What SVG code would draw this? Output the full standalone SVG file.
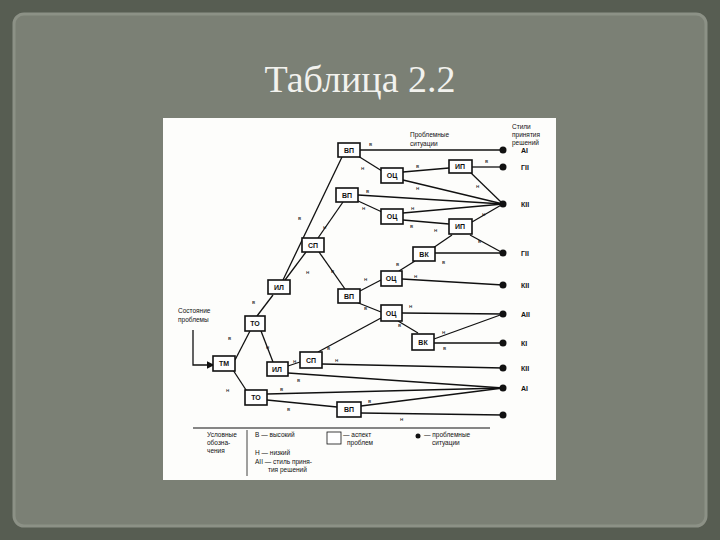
<svg xmlns="http://www.w3.org/2000/svg" width="720" height="540" viewBox="0 0 720 540">
<style>
.n rect{fill:#fff;stroke:#111;stroke-width:1.6}
.n text,.t{font-family:"Liberation Sans",Arial,sans-serif;font-size:7px;font-weight:bold;fill:#111}
.n text{text-anchor:middle}
.e line,.e polyline{stroke:#111;stroke-width:1.3;fill:none}
.l{font-family:"Liberation Sans",Arial,sans-serif;font-size:6px;fill:#111}
.d{fill:#111}
.s{font-family:"Liberation Sans",Arial,sans-serif;font-size:6.5px;fill:#111}
</style>
<defs><marker id="ar" markerWidth="6" markerHeight="6" refX="5" refY="3" orient="auto"><path d="M0,0L6,3L0,6z" fill="#111"/></marker></defs>
<rect width="720" height="540" fill="#575d52"/>
<rect x="14" y="14" width="692" height="512" rx="10" fill="#7b8075" stroke="#8c9186" stroke-width="3"/>
<text x="360" y="92" text-anchor="middle" font-family="Liberation Serif,serif" font-size="38" fill="#f2f2ee">Таблица 2.2</text>
<rect x="163" y="118" width="393" height="362" fill="#fdfdfb"/>
<g class="e">
<polyline points="193,330 193,365 213,365" marker-end="url(#ar)"/>
<line x1="235" y1="360" x2="250" y2="331"/><line x1="233" y1="370" x2="248" y2="393"/>
<line x1="257" y1="316" x2="273" y2="295"/><line x1="261" y1="331" x2="273" y2="362"/>
<line x1="283" y1="280" x2="342" y2="157"/><line x1="285" y1="280" x2="306" y2="252"/>
<line x1="318" y1="238" x2="343" y2="202"/><line x1="319" y1="252" x2="345" y2="289"/>
<line x1="360" y1="150" x2="503" y2="150"/><line x1="358" y1="156" x2="382" y2="171"/>
<line x1="403" y1="172" x2="449" y2="168"/><line x1="472" y1="167" x2="503" y2="167"/>
<line x1="403" y1="180" x2="503" y2="204"/><line x1="470" y1="172" x2="503" y2="204"/>
<line x1="358" y1="195" x2="503" y2="204"/><line x1="356" y1="200" x2="382" y2="212"/>
<line x1="403" y1="213" x2="503" y2="204"/><line x1="403" y1="220" x2="449" y2="224"/>
<line x1="472" y1="222" x2="503" y2="204"/><line x1="470" y1="235" x2="503" y2="253"/>
<line x1="452" y1="235" x2="433" y2="248"/><line x1="435" y1="253" x2="503" y2="253"/>
<line x1="399" y1="271" x2="415" y2="261"/><line x1="402" y1="279" x2="503" y2="285"/>
<line x1="358" y1="292" x2="381" y2="280"/><line x1="356" y1="302" x2="381" y2="312"/>
<line x1="402" y1="313" x2="503" y2="314"/><line x1="398" y1="321" x2="418" y2="333"/>
<line x1="434" y1="339" x2="503" y2="314"/><line x1="434" y1="343" x2="503" y2="343"/>
<line x1="288" y1="366" x2="300" y2="362"/><line x1="318" y1="352" x2="381" y2="318"/>
<line x1="322" y1="364" x2="503" y2="368"/><line x1="288" y1="373" x2="503" y2="388"/>
<line x1="267" y1="394" x2="503" y2="388"/><line x1="267" y1="400" x2="337" y2="407"/>
<line x1="361" y1="406" x2="503" y2="388"/><line x1="361" y1="413" x2="503" y2="415"/>
</g>
<g class="d"><circle cx="503" cy="150" r="3.5"/><circle cx="503" cy="167" r="3.5"/><circle cx="503" cy="204" r="3.5"/><circle cx="503" cy="253" r="3.5"/><circle cx="503" cy="285" r="3.5"/><circle cx="503" cy="314" r="3.5"/><circle cx="503" cy="343" r="3.5"/><circle cx="503" cy="368" r="3.5"/><circle cx="503" cy="388" r="3.5"/><circle cx="503" cy="415" r="3.5"/></g>
<g class="l">
<text x="369" y="146">в</text><text x="361" y="170">н</text><text x="416" y="168">в</text><text x="485" y="163">в</text><text x="416" y="190">н</text><text x="476" y="188">н</text>
<text x="366" y="193">в</text><text x="362" y="210">н</text><text x="411" y="210">н</text><text x="410" y="228">в</text><text x="482" y="216">н</text><text x="434" y="232">н</text><text x="478" y="243">в</text><text x="442" y="264">в</text>
<text x="396" y="266">в</text><text x="414" y="278">н</text><text x="364" y="281">н</text><text x="364" y="310">в</text><text x="409" y="308">н</text><text x="398" y="327">в</text><text x="442" y="334">н</text><text x="443" y="350">в</text>
<text x="298" y="220">в</text><text x="323" y="229">н</text><text x="306" y="274">н</text><text x="331" y="273">в</text>
<text x="252" y="304">в</text><text x="266" y="349">н</text><text x="228" y="340">в</text><text x="226" y="392">н</text>
<text x="293" y="363">н</text><text x="327" y="350">в</text><text x="335" y="362">н</text><text x="297" y="382">в</text><text x="280" y="391">в</text><text x="287" y="411">в</text><text x="368" y="403">в</text><text x="400" y="421">н</text>
</g>
<g id="n-vp1" class="n"><rect x="338" y="143" width="22" height="14"/><text x="349" y="153">ВП</text></g>
<g id="n-vp2" class="n"><rect x="336" y="188" width="22" height="14"/><text x="347" y="198">ВП</text></g>
<g id="n-sp1" class="n"><rect x="302" y="238" width="22" height="14"/><text x="313" y="248">СП</text></g>
<g id="n-il1" class="n"><rect x="268" y="280" width="22" height="14"/><text x="279" y="290">ИЛ</text></g>
<g id="n-vp3" class="n"><rect x="338" y="289" width="22" height="14"/><text x="349" y="299">ВП</text></g>
<g id="n-oc1" class="n"><rect x="381" y="168" width="22" height="15"/><text x="392" y="178">ОЦ</text></g>
<g id="n-ip1" class="n"><rect x="449" y="160" width="23" height="13"/><text x="460" y="169">ИП</text></g>
<g id="n-oc2" class="n"><rect x="381" y="209" width="22" height="15"/><text x="392" y="219">ОЦ</text></g>
<g id="n-ip2" class="n"><rect x="449" y="219" width="23" height="15"/><text x="460" y="229">ИП</text></g>
<g id="n-vk1" class="n"><rect x="413" y="247" width="22" height="14"/><text x="424" y="257">ВК</text></g>
<g id="n-oc3" class="n"><rect x="381" y="271" width="21" height="15"/><text x="391" y="281">ОЦ</text></g>
<g id="n-oc4" class="n"><rect x="381" y="305" width="21" height="16"/><text x="391" y="316">ОЦ</text></g>
<g id="n-vk2" class="n"><rect x="412" y="334" width="22" height="16"/><text x="423" y="345">ВК</text></g>
<g id="n-to1" class="n"><rect x="245" y="316" width="20" height="15"/><text x="255" y="326">ТО</text></g>
<g id="n-tm" class="n"><rect x="213" y="356" width="22" height="15"/><text x="224" y="366">ТМ</text></g>
<g id="n-il2" class="n"><rect x="267" y="362" width="21" height="14"/><text x="277" y="372">ИЛ</text></g>
<g id="n-sp2" class="n"><rect x="300" y="352" width="22" height="16"/><text x="311" y="363">СП</text></g>
<g id="n-to2" class="n"><rect x="245" y="390" width="22" height="15"/><text x="256" y="400">ТО</text></g>
<g id="n-vp4" class="n"><rect x="337" y="402" width="24" height="15"/><text x="349" y="412">ВП</text></g>
<g class="s">
<text x="410" y="137">Проблемные</text><text x="410" y="146">ситуации</text>
<text x="512" y="129">Стили</text><text x="512" y="137">принятия</text><text x="512" y="145">решений</text>
<text x="178" y="313">Состояние</text><text x="178" y="322">проблемы</text>
</g>
<g class="t" font-size="8">
<text x="521" y="153">АI</text><text x="521" y="170">ГII</text><text x="521" y="207">КII</text><text x="521" y="256">ГII</text><text x="521" y="288">КII</text><text x="521" y="317">АII</text><text x="521" y="346">КI</text><text x="521" y="371">КII</text><text x="521" y="391">АI</text>
</g>
<line x1="193" y1="428" x2="490" y2="428" stroke="#111" stroke-width="1.2"/>
<line x1="247" y1="430" x2="247" y2="476" stroke="#111" stroke-width="0.8"/>
<rect x="327" y="432" width="14" height="12" fill="#fff" stroke="#111" stroke-width="0.8"/>
<circle cx="418" cy="436" r="2.5" fill="#111"/>
<g class="s">
<text x="207" y="437">Условные</text><text x="207" y="445">обозна-</text><text x="207" y="453">чения</text>
<text x="255" y="437">В — высокий</text><text x="255" y="455">Н — низкий</text><text x="255" y="464">АII — стиль приня-</text><text x="268" y="472">тия решений</text>
<text x="343" y="437">— аспект</text><text x="347" y="445">проблем</text>
<text x="424" y="437">— проблемные</text><text x="432" y="445">ситуации</text>
</g>
</svg>
